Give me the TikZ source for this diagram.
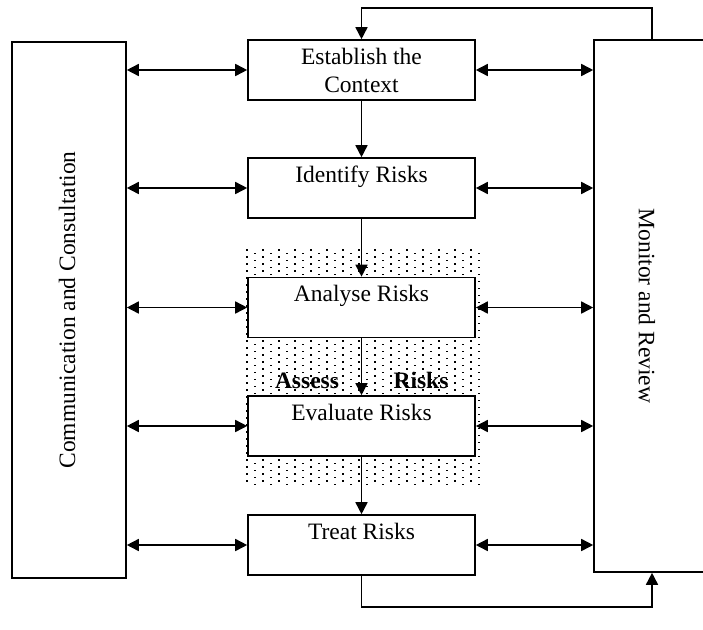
\documentclass[tikz,border=0pt]{standalone}
\usepackage{fontspec}
\setmainfont{Liberation Serif}
\usetikzlibrary{arrows.meta}

\begin{document}
\begin{tikzpicture}[x=1pt,y=-1pt,line width=1.6pt,>={Triangle[length=12pt,width=12pt]},
  stage/.style={draw,fill=white,minimum width=227pt,minimum height=60pt,
    inner sep=0pt,align=center,font=\fontsize{23.5}{28}\selectfont},
  side/.style={draw,fill=white,minimum width=114pt,inner sep=0pt},
  sidetext/.style={font=\fontsize{23.5}{28}\selectfont,inner sep=0pt},
  boldtext/.style={font=\bfseries\fontsize{23.5}{28}\selectfont,anchor=base,inner sep=0pt}]
  \useasboundingbox (0,0) rectangle (703,629);

  % Dotted band behind the assessment steps.
  \foreach \i in {0,...,29}
    \foreach \j in {0,...,33}
      \fill ({246+8*\i},{249+7*\j+3.5*mod(\i,2)}) rectangle +(1.5,1.5);

  \node[side,minimum height=536pt] (comm) at (69,310) {};
  \node[sidetext,rotate=90] (commtxt) at (67,310) {Communication and Consultation};
  \node[side,minimum width=124pt,minimum height=532pt] (mon) at (656,306) {};
  \node[sidetext,rotate=-90] (montxt) at (647,306) {Monitor and Review};

  \node[stage] (ctx) at (361.5,70) {Establish the\\Context};
  \node[stage] (idf) at (361.5,188) {Identify Risks\\\mbox{}};
  \node[stage] (ana) at (361.5,307.5) {Analyse Risks\\\mbox{}};
  \node[stage] (evl) at (361.5,426) {Evaluate Risks\\\mbox{}};
  \node[stage] (trt) at (361.5,545) {Treat Risks\\\mbox{}};

  \node[boldtext] (asx) at (307,388) {Assess};
  \node[boldtext] (rsk) at (421,388) {Risks};

  \draw[->] (ctx) -- (idf);
  \draw[->] (idf) -- (ana);
  \draw[->] (ana) -- (evl);
  \draw[->] (evl) -- (trt);

  \foreach \s in {ctx,idf,ana,evl,trt} {
    \draw[<->] (comm.east |- \s.west) -- (\s.west);
    \draw[<->] (\s.east) -- (mon.west |- \s.east);
  }

  % Feedback loops round the monitor box.
  \coordinate (up) at (652,8);
  \coordinate (dn) at (652,607);
  \draw[->] (mon.north -| up) -- (up) -| (ctx.north);
  \draw[->] (trt.south) |- (dn) -- (mon.south -| dn);
\end{tikzpicture}
\end{document}
